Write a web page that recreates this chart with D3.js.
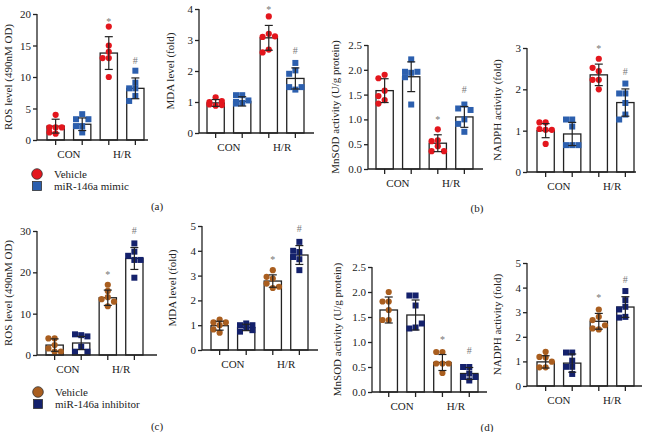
<!DOCTYPE html>
<html><head><meta charset="utf-8">
<script src="https://cdn.jsdelivr.net/npm/d3@7"></script>
<style>
html,body{margin:0;padding:0;background:#fff;}
svg{display:block;font-family:"Liberation Serif","DejaVu Serif",serif;}
</style></head>
<body><svg id="c" width="646" height="432"></svg>
<script>
// ---------- DATA ----------
const categories = ["CON", "H/R"];
const seriesTop = ["Vehicle", "miR-146a mimic"];
const seriesBottom = ["Vehicle", "miR-146a inhibitor"];
// bar order: CON-Vehicle, CON-treatment, H/R-Vehicle, H/R-treatment
const sigMarks = ["", "", "*", "#"];

const rosA_means = [2.2, 2.5, 13.8, 8.2];
const rosA_sd = [1.1, 1.0, 2.6, 1.65];
const rosA_points = [[4, 2, 2, 2, 1, 1.2], [4.1, 3.3, 3.3, 2.2, 2.2, 1.2], [18, 15, 14, 13, 13, 10], [11, 9.1, 8.2, 8.2, 7, 6.2]];
const rosA_ticks = [0, 5, 10, 15, 20];

const mdaA_means = [0.97, 1.02, 3.07, 1.76];
const mdaA_sd = [0.11, 0.15, 0.4, 0.34];
const mdaA_points = [[1.15, 1.0, 1.03, 0.88, 0.9, 0.92], [1.22, 1.22, 1.05, 0.97, 0.95, 1.0], [3.76, 3.2, 3.1, 3.12, 2.69, 2.6], [2.26, 2.02, 1.91, 1.4, 1.48, 1.48]];
const mdaA_ticks = [0, 1, 2, 3, 4];

const sodB_means = [1.58, 1.86, 0.52, 1.05];
const sodB_sd = [0.24, 0.3, 0.17, 0.21];
const sodB_points = [[1.9, 1.83, 1.58, 1.47, 1.39, 1.32], [2.21, 1.94, 1.96, 1.96, 1.85, 1.3], [0.8, 0.58, 0.56, 0.46, 0.36, 0.36], [1.3, 1.22, 1.19, 1.0, 0.91, 0.75]];
const sodB_ticks = [0, 0.5, 1.0, 1.5, 2.0, 2.5];

const nadB_means = [1.0, 0.92, 2.35, 1.68];
const nadB_sd = [0.17, 0.28, 0.26, 0.33];
const nadB_points = [[1.2, 1.2, 1.02, 1.04, 1.02, 0.68], [1.27, 1.27, 1.1, 0.65, 0.65, 0.65], [2.74, 2.44, 2.52, 2.23, 2.23, 2.0], [2.14, 1.9, 1.9, 1.67, 1.39, 1.27]];
const nadB_ticks = [0, 1, 2, 3];

const rosC_means = [2.4, 2.9, 13.85, 23.35];
const rosC_sd = [1.5, 1.6, 1.85, 2.65];
const rosC_points = [[4, 4, 2.4, 1.6, 0.8, 0.8], [4.8, 5.0, 4.5, 2.0, 0.8, 0.8], [17, 15.5, 14, 13.5, 12.9, 11.8], [27, 25, 24, 23, 23, 18.7]];
const rosC_ticks = [0, 10, 20, 30];

const mdaC_means = [0.98, 0.91, 2.78, 3.83];
const mdaC_sd = [0.18, 0.13, 0.25, 0.38];
const mdaC_points = [[1.23, 1.11, 1.11, 1.0, 0.83, 0.7], [1.07, 1.0, 1.0, 0.9, 0.74, 0.8], [3.22, 2.88, 2.95, 2.68, 2.5, 2.55], [4.36, 3.95, 4.0, 3.75, 3.66, 3.22]];
const mdaC_ticks = [0, 1, 2, 3, 4, 5];

const sodD_means = [1.64, 1.54, 0.59, 0.37];
const sodD_sd = [0.26, 0.3, 0.16, 0.12];
const sodD_points = [[2.0, 1.81, 1.81, 1.64, 1.44, 1.44], [1.93, 1.93, 1.73, 1.29, 1.27, 1.37], [0.8, 0.8, 0.57, 0.57, 0.57, 0.38], [0.5, 0.5, 0.37, 0.3, 0.23, 0.3]];
const sodD_ticks = [0, 0.5, 1.0, 1.5, 2.0, 2.5];

const nadD_means = [0.98, 0.93, 2.63, 3.21];
const nadD_sd = [0.25, 0.37, 0.32, 0.42];
const nadD_points = [[1.39, 1.18, 1.16, 0.99, 0.76, 0.76], [1.36, 1.36, 1.03, 0.78, 0.78, 0.49], [3.11, 2.81, 2.68, 2.3, 2.47, 2.34], [3.86, 3.49, 3.22, 3.11, 2.81, 2.78]];
const nadD_ticks = [0, 1, 2, 3, 4, 5];

const yLabels = ["ROS level (490nM OD)", "MDA level (fold)", "MnSOD activity (U/g protein)", "NADPH activity (fold)"];

// ---------- STYLE / LAYOUT ----------
const colTop = ["#e3161d", "#2c5fae"];
const colBot = ["#a95e1f", "#14216c"];
const ink = "#222";

const panels = [
  {means: rosA_means, sd: rosA_sd, pts: rosA_points, ticks: rosA_ticks, fmt: "d", lab: yLabels[0], ax: 37, axR: 148, bL: 47, bR: 144, y0: 140, yT: 14, cols: colTop, lx: 29},
  {means: mdaA_means, sd: mdaA_sd, pts: mdaA_points, ticks: mdaA_ticks, fmt: "d", lab: yLabels[1], ax: 199, axR: 314, bL: 207, bR: 304, y0: 133, yT: 9, cols: colTop, lx: 29},
  {means: sodB_means, sd: sodB_sd, pts: sodB_points, ticks: sodB_ticks, fmt: ".1f", lab: yLabels[2], ax: 368, axR: 483, bL: 376, bR: 473, y0: 169, yT: 45, cols: colTop, lx: 33},
  {means: nadB_means, sd: nadB_sd, pts: nadB_points, ticks: nadB_ticks, fmt: "d", lab: yLabels[3], ax: 527, axR: 636, bL: 537, bR: 634, y0: 172, yT: 48, cols: colTop, lx: 30},
  {means: rosC_means, sd: rosC_sd, pts: rosC_points, ticks: rosC_ticks, fmt: "d", lab: yLabels[0], ax: 37, axR: 157, bL: 46, bR: 143, y0: 355, yT: 231, cols: colBot, lx: 29},
  {means: mdaC_means, sd: mdaC_sd, pts: mdaC_points, ticks: mdaC_ticks, fmt: "d", lab: yLabels[1], ax: 202, axR: 318, bL: 211, bR: 308, y0: 350, yT: 226, cols: colBot, lx: 30},
  {means: sodD_means, sd: sodD_sd, pts: sodD_points, ticks: sodD_ticks, fmt: ".1f", lab: yLabels[2], ax: 372, axR: 487, bL: 380, bR: 478, y0: 392, yT: 267, cols: colBot, lx: 35},
  {means: nadD_means, sd: nadD_sd, pts: nadD_points, ticks: nadD_ticks, fmt: "d", lab: yLabels[3], ax: 527, axR: 642, bL: 537, bR: 634, y0: 386, yT: 263, cols: colBot, lx: 30}
];

const svg = d3.select("#c");
const FS = 11;

function drawPanel(p) {
  const g = svg.append("g");
  const keys = [0, 1, 2, 3];
  const x = d3.scaleBand().domain(keys).range([p.bL, p.bR]).paddingInner(0.35).paddingOuter(0);
  const y = d3.scaleLinear().domain([0, d3.max(p.ticks)]).range([p.y0, p.yT]);
  const bw = x.bandwidth();
  const cx = i => x(i) + bw / 2;

  // bars
  g.selectAll("rect.bar").data(keys).join("rect")
    .attr("x", i => x(i)).attr("y", i => y(p.means[i]))
    .attr("width", bw).attr("height", i => y(0) - y(p.means[i]))
    .attr("fill", "#fff").attr("stroke", ink).attr("stroke-width", 1.3);

  // points (simple beeswarm within the bar)
  const d = 6.2;
  keys.forEach(i => {
    const placed = [];
    const series = i % 2;
    p.pts[i].forEach(v => {
      const py = y(v);
      let best = 0, bestDist = -1;
      for (const o of [0, -d, d]) {
        const md = placed.length ? d3.min(placed, q => Math.hypot(q.ox - o, q.py - py)) : Infinity;
        if (md >= 5.5) { best = o; bestDist = md; break; }
        if (md > bestDist) { bestDist = md; best = o; }
      }
      placed.push({ox: best, py: py});
    });
    placed.forEach(q => {
      if (series === 0) {
        g.append("circle").attr("cx", cx(i) + q.ox).attr("cy", q.py).attr("r", 3.1).attr("fill", p.cols[0]);
      } else {
        g.append("rect").attr("x", cx(i) + q.ox - 3).attr("y", q.py - 3).attr("width", 6).attr("height", 6).attr("fill", p.cols[1]);
      }
    });
  });

  // error bars
  keys.forEach(i => {
    const hi = y(p.means[i] + p.sd[i]), lo = y(Math.max(0, p.means[i] - p.sd[i]));
    g.append("line").attr("x1", cx(i)).attr("x2", cx(i)).attr("y1", hi).attr("y2", lo).attr("stroke", ink).attr("stroke-width", 1.2);
    [hi, lo].forEach(yy => g.append("line").attr("x1", cx(i) - 4).attr("x2", cx(i) + 4).attr("y1", yy).attr("y2", yy).attr("stroke", ink).attr("stroke-width", 1.2));
    if (sigMarks[i]) {
      g.append("text").attr("x", cx(i)).attr("y", hi - (sigMarks[i] === "*" ? 12 : 14))
        .attr("text-anchor", "middle").attr("font-size", 10).attr("fill", "#777").text(sigMarks[i]);
    }
  });

  // y axis
  const yAx = g.append("g").attr("transform", `translate(${p.ax},0)`)
    .call(d3.axisLeft(y).tickValues(p.ticks).tickSize(4).tickPadding(2).tickFormat(d3.format(p.fmt)));
  yAx.select(".domain").attr("stroke", ink).attr("stroke-width", 1.3).attr("d", `M0,${p.y0}V${p.yT}`);
  yAx.selectAll(".tick line").attr("stroke", ink).attr("stroke-width", 1.3);
  yAx.selectAll("text").attr("font-size", FS).attr("font-family", "Liberation Serif").attr("fill", ink);

  // x axis
  const xAx = g.append("g").attr("transform", `translate(0,${p.y0})`)
    .call(d3.axisBottom(x).tickSize(5).tickFormat(""));
  xAx.select(".domain").attr("stroke", ink).attr("stroke-width", 1.3).attr("d", `M${p.ax},0H${p.axR}`);
  xAx.selectAll(".tick line").attr("stroke", ink).attr("stroke-width", 1.3);
  categories.forEach((c, k) => {
    g.append("text").attr("x", (cx(2 * k) + cx(2 * k + 1)) / 2).attr("y", p.y0 + 18)
      .attr("text-anchor", "middle").attr("font-size", FS).attr("fill", ink).text(c);
  });

  // y label
  g.append("text").attr("transform", `translate(${p.ax - p.lx},${(p.y0 + p.yT) / 2}) rotate(-90)`)
    .attr("text-anchor", "middle").attr("dominant-baseline", "central")
    .attr("font-size", FS).attr("fill", ink).text(p.lab);
}

panels.forEach(drawPanel);

// legends
function legend(x0, y0, names, cols) {
  const g = svg.append("g");
  g.append("circle").attr("cx", x0).attr("cy", y0).attr("r", 5.3).attr("fill", cols[0]).attr("stroke", "#333").attr("stroke-width", 0.8);
  g.append("rect").attr("x", x0 - 4.5).attr("y", y0 + 12 - 4.5).attr("width", 9).attr("height", 9).attr("fill", cols[1]).attr("stroke", "#333").attr("stroke-width", 0.8);
  names.forEach((n, k) => g.append("text").attr("x", x0 + 17).attr("y", y0 + k * 12).attr("dominant-baseline", "central")
    .attr("font-size", FS).attr("fill", ink).text(n));
}
legend(37, 174, seriesTop, colTop);
legend(38, 392, seriesBottom, colBot);

// panel letters
[["(a)", 157, 206], ["(b)", 477, 208], ["(c)", 157, 426], ["(d)", 487, 427]].forEach(t =>
  svg.append("text").attr("x", t[1]).attr("y", t[2]).attr("text-anchor", "middle").attr("dominant-baseline", "central")
    .attr("font-size", FS).attr("fill", ink).text(t[0]));
</script>
</body></html>
